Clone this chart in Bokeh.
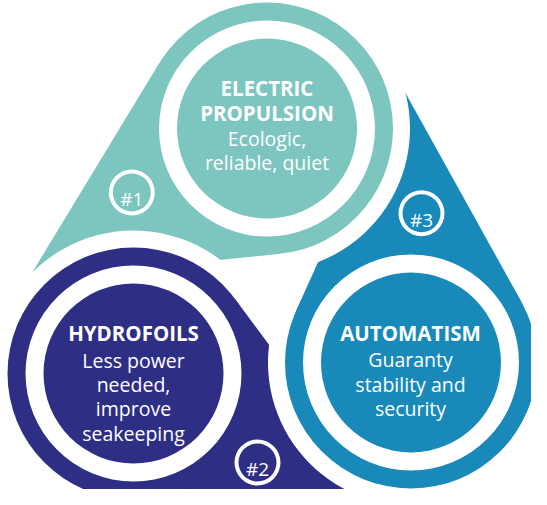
import numpy as np
from bokeh.plotting import figure
from bokeh.models import Range1d
from bokeh.core.properties import value
from bokeh.embed import file_html
from bokeh.resources import INLINE

# ---- content (image pixel coordinates, y measured downward) ----
names = ["ELECTRIC PROPULSION", "HYDROFOILS", "AUTOMATISM"]
colors = ["#7cc6bf", "#2e2e84", "#1889b8"]
center_x = [274.5, 141.0, 418.5]
center_y = [136.0, 381.0, 370.0]
tail_angle_deg = [212.3, 332.3, 92.4]
tail_length = [283.0, 290.0, 281.0]
cut_start_deg = [-83, 38, 157]
cut_end_deg = [30, 170, 265]

titles = [["ELECTRIC", "PROPULSION"], ["HYDROFOILS"], ["AUTOMATISM"]]
title_baselines = [[95, 120], [340.7], [340.7]]
bodies = [["Ecologic,", "reliable, quiet"],
          ["Less power", "needed,", "improve", "seakeeping"],
          ["Guaranty", "stability and", "security"]]
body_baselines = [[146, 170], [367.5, 392, 416, 440.5], [366.7, 391.7, 416]]
text_x = [274.5, 141.0, 418.0]

badge_labels = ["#1", "#2", "#3"]
badge_x = [139.3, 265.0, 429.0]
badge_y = [200.0, 470.0, 220.7]

# ---- geometry sizes ----
IMG_H = 505
R = 126.0
GAP = 17.0
RING_OUT, RING_IN = 108.0, 90.0
BADGE_OUT, BADGE_IN = 23.0, 19.0


def Y(y):
    return IMG_H - y


cx = np.array(center_x)
cy = np.array([Y(v) for v in center_y])

p = figure(width=531, height=489, x_range=Range1d(8, 539), y_range=Range1d(8, 497),
           output_backend="svg", toolbar_location=None, min_border=0,
           x_axis_location=None, y_axis_location=None)
p.grid.visible = False
p.outline_line_color = None
p.background_fill_color = "white"
p.border_fill_color = "white"

# tails (kites from tip to tangent points)
xs, ys = [], []
for i in range(3):
    L = tail_length[i]
    beta = np.arccos(R / L)
    a = np.radians(tail_angle_deg[i])
    tip = (cx[i] + L * np.cos(a), cy[i] + L * np.sin(a))
    t1 = (cx[i] + R * np.cos(a + beta), cy[i] + R * np.sin(a + beta))
    t2 = (cx[i] + R * np.cos(a - beta), cy[i] + R * np.sin(a - beta))
    xs.append([tip[0], t1[0], cx[i], t2[0]])
    ys.append([tip[1], t1[1], cy[i], t2[1]])
p.patches(xs, ys, fill_color=colors, line_color=None)

# white gaps cutting the neighbouring tail
p.annular_wedge(x=cx, y=cy, inner_radius=R - 2, outer_radius=R + GAP,
                start_angle=np.radians(cut_start_deg), end_angle=np.radians(cut_end_deg),
                fill_color="white", line_color=None)

# main discs
p.circle(x=cx, y=cy, radius=R, fill_color=colors, line_color=None)
# white inner ring
p.annulus(x=cx, y=cy, inner_radius=RING_IN, outer_radius=RING_OUT,
          fill_color="white", line_color=None)

# badges
bx = np.array(badge_x)
by = np.array([Y(v) for v in badge_y])
p.annulus(x=bx, y=by, inner_radius=BADGE_IN, outer_radius=BADGE_OUT,
          fill_color="white", line_color=None)
p.text(x=bx, y=by - 6.8, text=badge_labels, text_font=value("Open Sans"),
       text_font_size="19px", text_color="white", text_align="center",
       text_baseline="alphabetic")

# texts
tx, ty, tt = [], [], []
for i in range(3):
    for line, b in zip(titles[i], title_baselines[i]):
        tx.append(text_x[i]); ty.append(Y(b)); tt.append(line)
p.text(x=tx, y=ty, text=tt, text_font=value("Open Sans"), text_font_style="bold",
       text_font_size="20.5px", text_color="white", text_align="center",
       text_baseline="alphabetic")

bx2, by2, bt = [], [], []
for i in range(3):
    for line, b in zip(bodies[i], body_baselines[i]):
        bx2.append(text_x[i]); by2.append(Y(b)); bt.append(line)
p.text(x=bx2, y=by2, text=bt, text_font=value("Open Sans"),
       text_font_size="19.5px", text_color="white", text_align="center",
       text_baseline="alphabetic")

open("out.html", "w").write(file_html(p, INLINE))
